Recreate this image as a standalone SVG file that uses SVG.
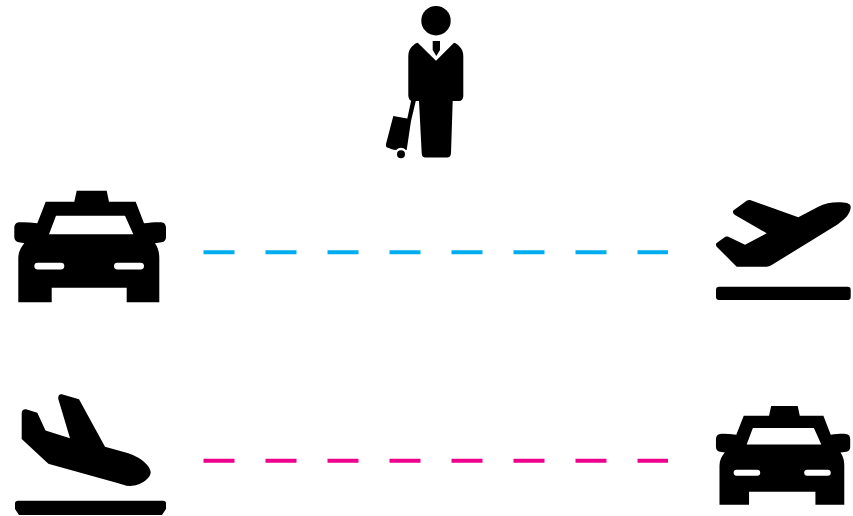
<svg xmlns="http://www.w3.org/2000/svg" width="853" height="516" viewBox="0 0 853 516">
<style>
.h{fill:#fff}
.b{fill:none;stroke:#00aeef;stroke-width:4;stroke-dasharray:31 31}
.m{fill:none;stroke:#ec008c;stroke-width:4;stroke-dasharray:31 31}
</style>
<defs>
<g id="taxi">
<path fill="#000" fill-rule="evenodd" d="M76.700 190.700H106.700L109 201.700H135.700L144 223.300C150 222.500 156 222 161 222.300C164.500 222.500 166 225 166 228V237C166 240 164.500 241.800 161.500 242.300L155 243.300C157.500 247 159.300 251 159.300 258V302.300H126.700V287.700H51.700V302.300H18.300V258C18.300 252 21 247 24.300 243.300L19 242.300C16 241.800 14.300 240 14.300 237V228C14.300 225 16 222.500 19 222.300C25 222 31 222.500 37.300 223.300L45.700 201.700H74.300ZM56 215.700L49 234.300H133.300L125 215.700Z"/>
<rect class="h" x="34.300" y="262.700" width="30" height="6.800" rx="3.400"/>
<rect class="h" x="114" y="262.700" width="30" height="6.800" rx="3.400"/>
</g>
</defs>
<g id="connectors">
<path class="b" d="M203.500 252.300H668"/>
<path class="m" d="M203.500 460.700H668"/>
</g>
<g id="person">
<circle cx="436" cy="20.700" r="14.700"/>
<path d="M417.700 42.700L436 60.700L454 42.700C456 43 458 44.500 459.500 46.500C462 49 463.300 52 463.300 56V96C463.300 99 461.500 101 459 101H452.700L451 153C450.800 156 449.500 157.500 447 157.500H425.500C423 157.500 421.800 156 421.700 153L419 101H412C410 101 408.300 98 408.300 95V56C408.300 52 409.500 49 412 46.500C414 44.500 415.500 43 417.700 42.700Z"/>
<path d="M432.700 41H440V50L436.300 56L432.700 50Z"/>
<path d="M393.300 116L407.300 118.500L411.300 100H416L411 121L406.700 150H399C395 150 392 149.500 390 148.500L386.700 147.300C386 147 385.800 145.500 386 144Z"/>
<circle cx="401" cy="154.300" r="6.500" fill="#fff"/>
<circle cx="401" cy="154.300" r="4"/>
</g>
<g id="taxi-left"><use href="#taxi"/></g>
<g id="plane-takeoff">
<path d="M750 200L798.300 217.300L818.300 206.700C824 203.800 831 202.300 838.300 202.300C845 202.300 850.700 203 850.700 206.700C850.700 211 848 215.500 845 218.300C842 221 839 223.500 836.700 225L771.700 265C770 266 768 266.700 766.700 266.700H736.700L716.500 246.500C715.700 245 715.700 243.500 717 242.700L725 237C726 236.500 727.500 236.500 728.300 236.700L745 244.800L766.700 233.300L735 215C732.800 213.500 732.200 211 734 210L747 200.500C748 200 749 199.800 750 200Z"/>
<rect x="716" y="286.700" width="134.700" height="13.300" rx="3"/>
</g>
<g id="plane-landing">
<path d="M58.300 399C57.800 395.500 59.500 394 61.700 394.300L79 399.300L105 446.700L128.300 453.300C132 454.500 135 456 138.300 457.700C145 461.500 150.700 468 150.700 472.300C150.700 478 141 486 130 486C125 486 121 484 118.300 483.300L50 464.300C48.500 464 47.500 463 46.700 462.300L21.700 439V413.300C21.700 410.500 23.500 409 26 409.300L37.300 412.700L45.500 430.500L70 438.300Z"/>
<path d="M18 500.700H163C165 500.700 166 501.700 166 503.500V509L162 515H19L15 509V503.500C15 501.700 16 500.700 18 500.700Z"/>
</g>
<g id="taxi-right"><use href="#taxi" transform="translate(703.300 237.200) scale(.885)"/></g>
</svg>
